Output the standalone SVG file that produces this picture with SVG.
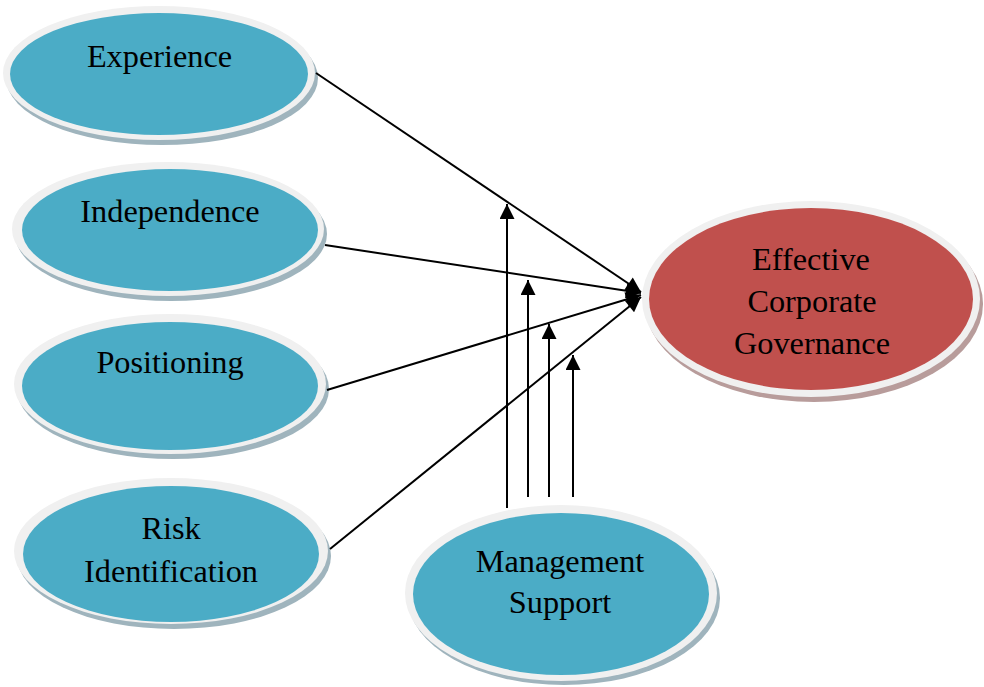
<svg xmlns="http://www.w3.org/2000/svg" width="984" height="687" viewBox="0 0 984 687">
  <style>
    .shadow { fill: #9fb4bd; }
    .shadow-red { fill: #b89c9b; }
    .rim { fill: #f0f0f0; }
    .teal { fill: #4bacc6; }
    .red { fill: #c0504d; }
    .label { font-family: "Liberation Serif", "Times New Roman", serif; font-size: 32.3px; fill: #000; text-anchor: middle; }
    .link { stroke: #000; stroke-width: 2; fill: none; }
  </style>
  <defs>
    <marker id="arrow" viewBox="0 0 10 10" refX="10" refY="5" markerWidth="8" markerHeight="7.5" orient="auto" markerUnits="strokeWidth">
      <path d="M0,0 L10,5 L0,10 Z" fill="#000"/>
    </marker>
  </defs>

  <rect width="984" height="687" fill="#fff"/>

  <g id="experience">
    <ellipse class="shadow" cx="162" cy="78" rx="156" ry="67"/>
    <ellipse class="rim" cx="159" cy="73" rx="156" ry="67"/>
    <ellipse class="teal" cx="159" cy="74" rx="149" ry="61"/>
    <text class="label" x="159.5" y="67">Experience</text>
  </g>

  <g id="independence">
    <ellipse class="shadow" cx="171" cy="234" rx="156" ry="67"/>
    <ellipse class="rim" cx="168" cy="229" rx="156" ry="67"/>
    <ellipse class="teal" cx="170" cy="230" rx="148" ry="61"/>
    <text class="label" x="170" y="222">Independence</text>
  </g>

  <g id="positioning">
    <ellipse class="shadow" cx="173" cy="389" rx="156" ry="70"/>
    <ellipse class="rim" cx="170" cy="384" rx="156" ry="70"/>
    <ellipse class="teal" cx="170" cy="386" rx="148" ry="64"/>
    <text class="label" x="170" y="373">Positioning</text>
  </g>

  <g id="risk-identification">
    <ellipse class="shadow" cx="174" cy="556" rx="157" ry="73"/>
    <ellipse class="rim" cx="171" cy="551" rx="157" ry="73"/>
    <ellipse class="teal" cx="171" cy="554" rx="148" ry="68"/>
    <text class="label" x="171" y="539">Risk</text>
    <text class="label" x="171" y="582">Identification</text>
  </g>

  <g id="management-support">
    <ellipse class="shadow" cx="564" cy="598" rx="156" ry="87"/>
    <ellipse class="rim" cx="561" cy="593" rx="156" ry="88"/>
    <ellipse class="teal" cx="561" cy="594" rx="148" ry="81"/>
    <text class="label" x="560" y="572">Management</text>
    <text class="label" x="560" y="613">Support</text>
  </g>

  <g id="effective-corporate-governance">
    <ellipse class="shadow-red" cx="814" cy="304" rx="169" ry="98"/>
    <ellipse class="rim" cx="811" cy="299" rx="169" ry="98"/>
    <ellipse class="red" cx="811" cy="299" rx="162" ry="91"/>
    <text class="label" x="811" y="270">Effective</text>
    <text class="label" x="812" y="312">Corporate</text>
    <text class="label" x="812" y="354">Governance</text>
  </g>

  <g id="connectors">
    <!-- factors into governance -->
    <line class="link" x1="316" y1="73" x2="641" y2="292" marker-end="url(#arrow)"/>
    <line class="link" x1="325" y1="245" x2="641" y2="293" marker-end="url(#arrow)"/>
    <line class="link" x1="327" y1="390" x2="641" y2="295" marker-end="url(#arrow)"/>
    <line class="link" x1="330" y1="549" x2="641" y2="297" marker-end="url(#arrow)"/>
    <!-- moderating effect of management support -->
    <line class="link" x1="507" y1="508" x2="507" y2="204" marker-end="url(#arrow)"/>
    <line class="link" x1="528" y1="497" x2="528" y2="280" marker-end="url(#arrow)"/>
    <line class="link" x1="549" y1="497" x2="549" y2="324" marker-end="url(#arrow)"/>
    <line class="link" x1="573" y1="497" x2="573" y2="355" marker-end="url(#arrow)"/>
  </g>
</svg>
